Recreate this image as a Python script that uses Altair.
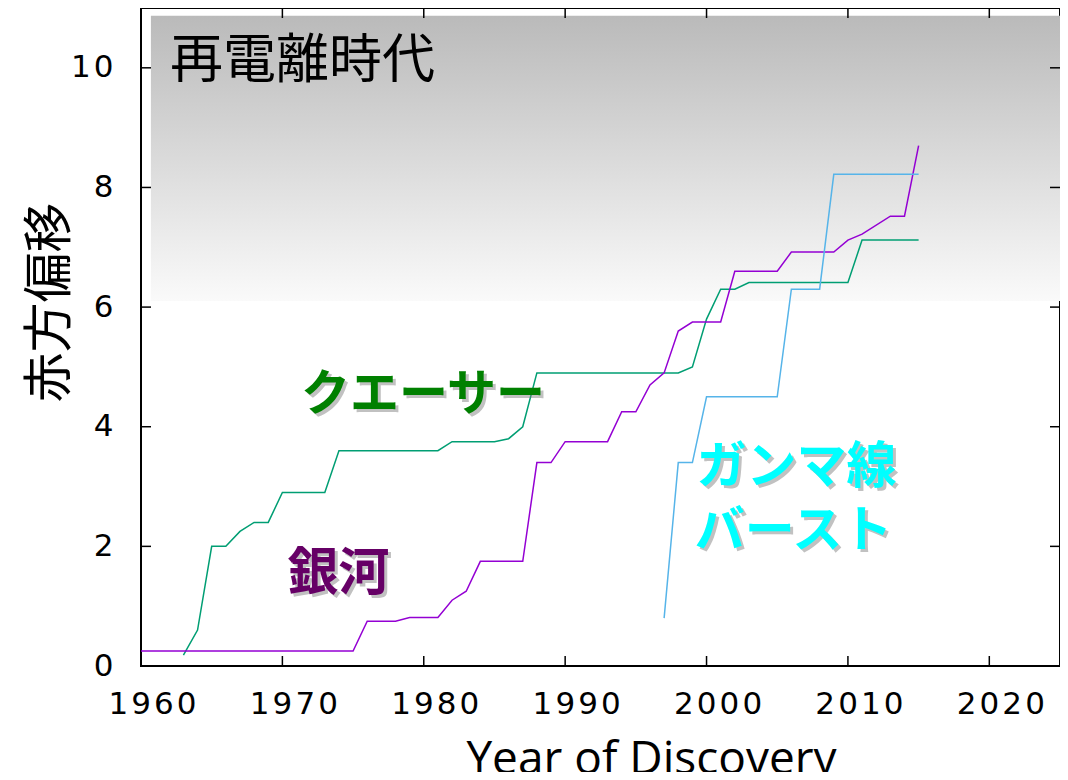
import altair as alt
import pandas as pd

# ---- data ----
quasar_year = [1963, 1964, 1965, 1966, 1967, 1968, 1969, 1970, 1973, 1974, 1981, 1982, 1985,
               1986, 1987, 1988, 1998, 1999, 2000, 2001, 2002, 2003, 2010, 2011, 2015]
quasar_z = [0.18, 0.6, 2.0, 2.0, 2.25, 2.4, 2.4, 2.9, 2.9, 3.6, 3.6, 3.75, 3.75,
            3.8, 4.0, 4.9, 4.9, 5.0, 5.8, 6.3, 6.3, 6.41, 6.41, 7.12, 7.12]

galaxy_year = [1960, 1975, 1976, 1978, 1979, 1981, 1982, 1983, 1984, 1987, 1988, 1989, 1990,
               1993, 1994, 1995, 1996, 1997, 1998, 1999, 2001, 2002, 2005, 2006, 2009, 2010,
               2011, 2013, 2014, 2015]
galaxy_z = [0.25, 0.25, 0.75, 0.75, 0.81, 0.81, 1.1, 1.25, 1.75, 1.75, 3.4, 3.4, 3.75,
            3.75, 4.25, 4.25, 4.7, 4.9, 5.6, 5.75, 5.75, 6.6, 6.6, 6.92, 6.92, 7.12,
            7.22, 7.52, 7.52, 8.7]

grb_year = [1997, 1998, 1999, 2000, 2005, 2006, 2008, 2009, 2015]
grb_z = [0.8, 3.4, 3.4, 4.5, 4.5, 6.3, 6.3, 8.22, 8.22]

series_names = ["quasar", "galaxy", "grb"]
series_colors = ["#009e73", "#9400d3", "#56b4e9"]

x_ticks = [1960, 1970, 1980, 1990, 2000, 2010, 2020]
y_ticks = [0, 2, 4, 6, 8, 10]

# reionization era band (redshift range)
era_x = [1960.7]
era_x2 = [2025]
era_z = [6.1]
era_z2 = [10.87]
era_label = ["再電離時代"]
era_label_x = [1962.05]
era_label_z = [10.1]

label_text = ["クエーサー", "銀河", "ガンマ線", "バースト"]
label_x = [1979.94, 1973.97, 2006.37, 2006.15]
label_z = [4.53, 1.52, 3.31, 2.24]
label_color = ["#008000", "#660066", "#00ffff", "#00ffff"]
label_size = [49, 51, 50, 50]

W, H = 919, 658

# ---- tables ----
rows = []
for name, ys, zs in zip(series_names, [quasar_year, galaxy_year, grb_year], [quasar_z, galaxy_z, grb_z]):
    for i, (yr, z) in enumerate(zip(ys, zs)):
        rows.append({"series": name, "year": yr, "z": z, "order": i})
lines_df = pd.DataFrame(rows)

era_df = pd.DataFrame({"x": era_x, "x2": era_x2, "z": era_z, "z2": era_z2})
era_text_df = pd.DataFrame({"x": era_label_x, "z": era_label_z, "text": era_label})
labels_df = pd.DataFrame({"x": label_x, "z": label_z, "text": label_text,
                          "color": label_color, "size": label_size})
xt_df = pd.DataFrame({"year": x_ticks})
yt_df = pd.DataFrame({"z": y_ticks})

x_scale = alt.Scale(domain=[1960, 2025], nice=False, zero=False)
y_scale = alt.Scale(domain=[0, 11], nice=False, zero=True)

spaced = "join(split(datum.label, ''), '\u200a')"

x_axis = alt.Axis(values=x_ticks, format="d", labelFont="DejaVu Sans", labelFontSize=31,
                  labelColor="black", labelPadding=23, labelOffset=11, labelFlush=False,
                  labelExpr=spaced, ticks=False, domain=False,
                  grid=False, title="Year of Discovery", titleFont="Open Sans",
                  titleFontSize=46, titleFontWeight="normal", titleColor="black",
                  titleX=510, titleY=107, titleAlign="center", titleBaseline="alphabetic")
y_axis = alt.Axis(values=y_ticks, format="d", labelFont="DejaVu Sans", labelFontSize=31,
                  labelColor="black", labelPadding=28, labelFlush=False, labelExpr=spaced,
                  ticks=False, domain=False, grid=False,
                  title="赤方偏移", titleFont="Noto Sans CJK JP", titleFontSize=50,
                  titleFontWeight="normal", titleColor="black", titleAngle=270,
                  titleX=-91, titleY=294, titleAlign="center", titleBaseline="middle")

band = alt.Chart(era_df).mark_rect(
    color=alt.Gradient(gradient="linear",
                       stops=[alt.GradientStop(color="#bababa", offset=0),
                              alt.GradientStop(color="#fafafa", offset=1)],
                       x1=0, x2=0, y1=0, y2=1)
).encode(
    x=alt.X("x:Q", scale=x_scale, axis=x_axis),
    x2="x2:Q",
    y=alt.Y("z:Q", scale=y_scale, axis=y_axis),
    y2="z2:Q",
)

lines = alt.Chart(lines_df).mark_line(strokeWidth=1.5, clip=True).encode(
    x=alt.X("year:Q", scale=x_scale),
    y=alt.Y("z:Q", scale=y_scale),
    color=alt.Color("series:N", scale=alt.Scale(domain=series_names, range=series_colors), legend=None),
    order="order:Q",
)

tick_style = dict(color="black", strokeWidth=1.5)
xb = alt.Chart(xt_df).mark_rule(**tick_style).encode(
    x=alt.X("year:Q", scale=x_scale), y=alt.value(H), y2=alt.value(H - 10))
xtop = alt.Chart(xt_df).mark_rule(**tick_style).encode(
    x=alt.X("year:Q", scale=x_scale), y=alt.value(0), y2=alt.value(10))
yl = alt.Chart(yt_df).mark_rule(**tick_style).encode(
    y=alt.Y("z:Q", scale=y_scale), x=alt.value(0), x2=alt.value(10))
yr = alt.Chart(yt_df).mark_rule(**tick_style).encode(
    y=alt.Y("z:Q", scale=y_scale), x=alt.value(W - 10), x2=alt.value(W))

era_text = alt.Chart(era_text_df).mark_text(
    font="Noto Sans CJK JP", fontSize=53, align="left", baseline="middle", color="black"
).encode(x=alt.X("x:Q", scale=x_scale), y=alt.Y("z:Q", scale=y_scale), text="text:N")

shadow = alt.Chart(labels_df).mark_text(
    font="Noto Sans CJK JP", fontWeight="bold", align="center", baseline="middle",
    dx=3, dy=3, color="#777777", opacity=0.45
).encode(x=alt.X("x:Q", scale=x_scale), y=alt.Y("z:Q", scale=y_scale), text="text:N",
         size=alt.Size("size:Q", scale=None, legend=None))

labels = alt.Chart(labels_df).mark_text(
    font="Noto Sans CJK JP", fontWeight="bold", align="center", baseline="middle"
).encode(x=alt.X("x:Q", scale=x_scale), y=alt.Y("z:Q", scale=y_scale), text="text:N",
         color=alt.Color("color:N", scale=None, legend=None),
         size=alt.Size("size:Q", scale=None, legend=None))

chart = alt.layer(band, lines, xb, xtop, yl, yr, era_text, shadow, labels).properties(
    width=W, height=H,
    background="white",
    autosize=alt.AutoSizeParams(type="none"),
    padding={"left": 133, "top": 0, "right": 0, "bottom": 106},
).configure_view(stroke="black", strokeWidth=2)

chart.save("out.html", embed_options={"renderer": "svg", "actions": False})
